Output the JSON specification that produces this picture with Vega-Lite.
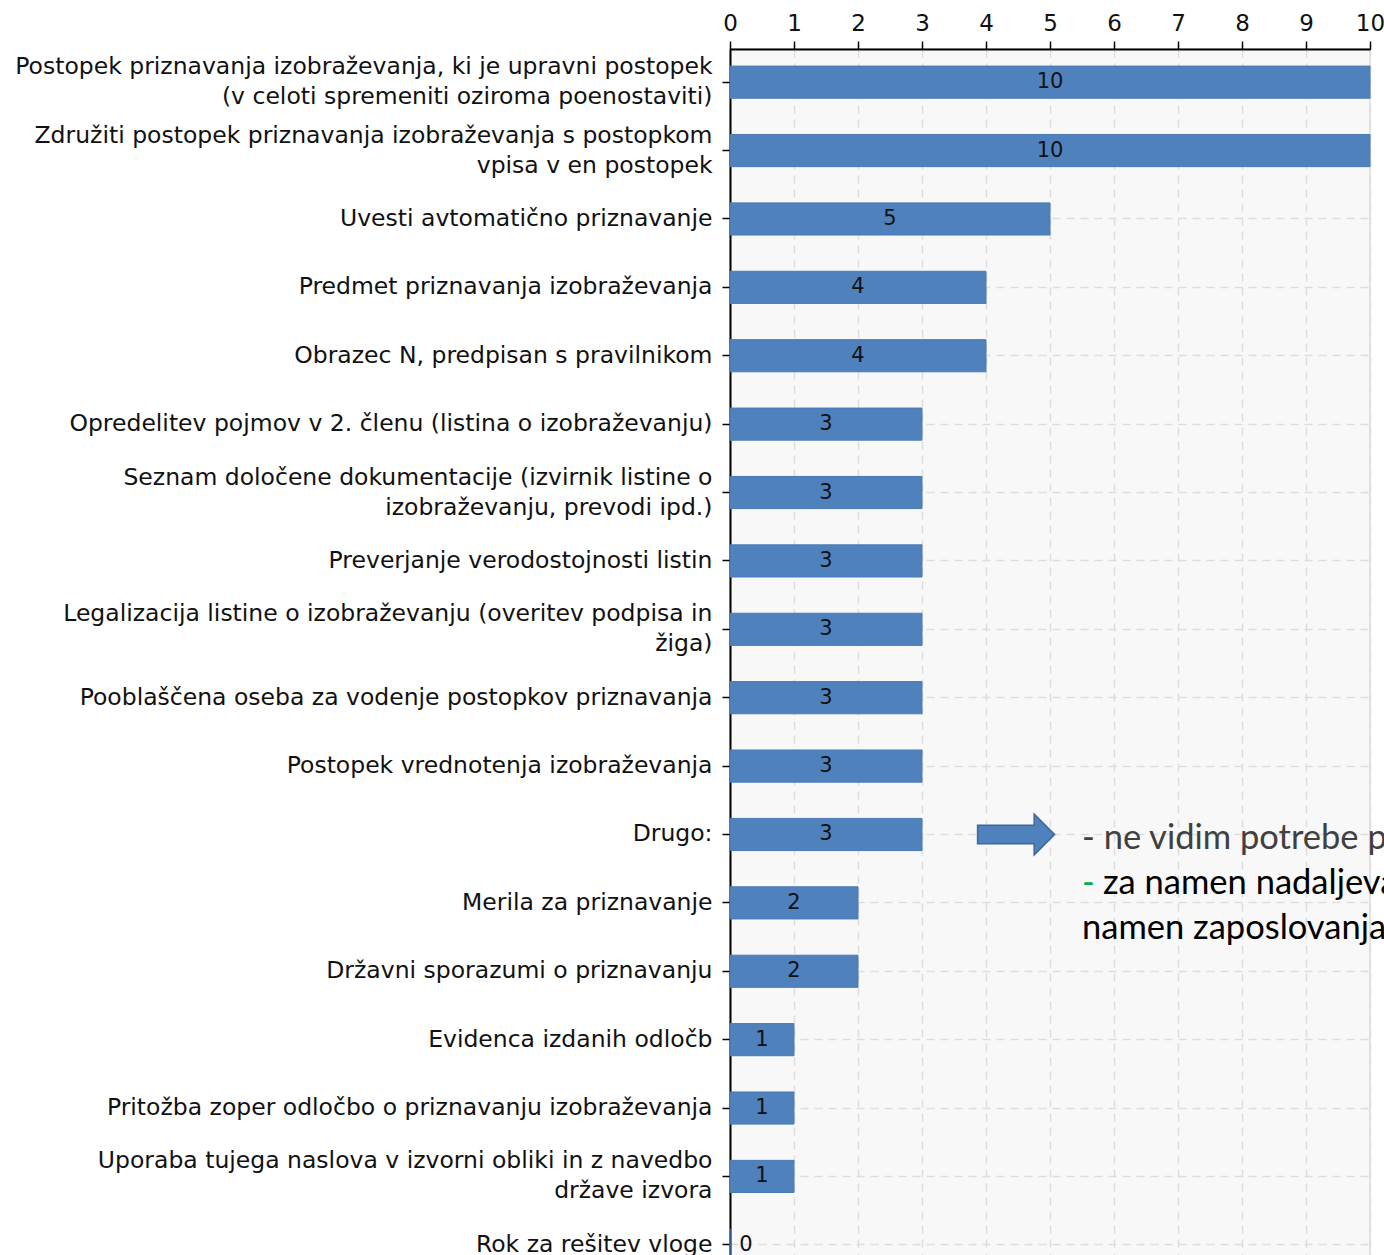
{
  "$schema": "https://vega.github.io/schema/vega-lite/v6.json",
  "autosize": "none",
  "padding": {"left": 730, "top": 49, "right": 14, "bottom": 0},
  "width": 640,
  "height": 1229,
  "background": "white",
  "config": {
    "view": {"fill": "#f8f8f8", "stroke": "#d9d9d9", "strokeWidth": 1.5},
    "font": "DejaVu Sans"
  },
  "layer": [
    {
      "data": {
        "values": [
          {"label": "Postopek priznavanja izobraževanja, ki je upravni postopek|(v celoti spremeniti oziroma poenostaviti)", "value": 10},
          {"label": "Združiti postopek priznavanja izobraževanja s postopkom|vpisa v en postopek", "value": 10},
          {"label": "Uvesti avtomatično priznavanje", "value": 5},
          {"label": "Predmet priznavanja izobraževanja", "value": 4},
          {"label": "Obrazec N, predpisan s pravilnikom", "value": 4},
          {"label": "Opredelitev pojmov v 2. členu (listina o izobraževanju)", "value": 3},
          {"label": "Seznam določene dokumentacije (izvirnik listine o|izobraževanju, prevodi ipd.)", "value": 3},
          {"label": "Preverjanje verodostojnosti listin", "value": 3},
          {"label": "Legalizacija listine o izobraževanju (overitev podpisa in|žiga)", "value": 3},
          {"label": "Pooblaščena oseba za vodenje postopkov priznavanja", "value": 3},
          {"label": "Postopek vrednotenja izobraževanja", "value": 3},
          {"label": "Drugo:", "value": 3},
          {"label": "Merila za priznavanje", "value": 2},
          {"label": "Državni sporazumi o priznavanju", "value": 2},
          {"label": "Evidenca izdanih odločb", "value": 1},
          {"label": "Pritožba zoper odločbo o priznavanju izobraževanja", "value": 1},
          {"label": "Uporaba tujega naslova v izvorni obliki in z navedbo|države izvora", "value": 1},
          {"label": "Rok za rešitev vloge", "value": 0}
        ]
      },
      "transform": [
        {"calculate": "datum.value == 0 ? 0.25 : datum.value / 2", "as": "labelPos"}
      ],
      "layer": [
        {
          "mark": {"type": "bar", "color": "#4f81bd", "stroke": "#4a7ab5", "strokeWidth": 1},
          "encoding": {
            "y": {
              "field": "label", "type": "nominal", "sort": null,
              "scale": {"paddingInner": 0.53, "paddingOuter": 0.25},
              "axis": {
                "title": null, "orient": "left",
                "labelExpr": "split(datum.label, '|')",
                "labelFont": "DejaVu Sans", "labelFontSize": 23.5, "labelColor": "#111111",
                "labelLineHeight": 30, "labelLimit": 0, "labelPadding": 10,
                "labelOffset": {"condition": {"test": "indexof(datum.value, '|') >= 0", "value": -15}, "value": 0},
                "tickSize": 8, "tickColor": "#000000", "tickWidth": 1.5,
                "domainColor": "#000000", "domainWidth": 2,
                "grid": true, "gridColor": "#dddddd", "gridDash": [8, 6], "gridWidth": 1.5
              }
            },
            "x": {
              "field": "value", "type": "quantitative",
              "scale": {"domain": [0, 10], "nice": false},
              "axis": {
                "title": null, "orient": "top", "values": [0,1,2,3,4,5,6,7,8,9,10], "format": "d",
                "labelFont": "DejaVu Sans", "labelFontSize": 23, "labelColor": "#111111",
                "labelPadding": 6, "labelFlush": false, "labelOverlap": false,
                "tickSize": 8, "tickColor": "#000000", "tickWidth": 1.5,
                "domainColor": "#000000", "domainWidth": 2,
                "grid": true, "gridColor": "#dddddd", "gridDash": [8, 6], "gridWidth": 1.5
              }
            }
          }
        },
        {
          "mark": {"type": "text", "font": "DejaVu Sans", "fontSize": 21, "color": "#111111", "baseline": "middle", "align": "center"},
          "encoding": {
            "y": {"field": "label", "type": "nominal", "sort": null},
            "x": {"field": "labelPos", "type": "quantitative"},
            "text": {"field": "value", "type": "quantitative"}
          }
        }
      ]
    },
    {
      "data": {"values": [{"note": "arrow"}]},
      "mark": {
        "type": "point", "filled": true, "opacity": 1,
        "shape": "M-1,-0.24 L0.47,-0.24 L0.47,-0.53 L1,0 L0.47,0.53 L0.47,0.24 L-1,0.24 Z",
        "size": 5929, "color": "#4f81bd", "stroke": "#3b679c", "strokeWidth": 1.5
      },
      "encoding": {
        "x": {"datum": 4.47, "type": "quantitative"},
        "y": {"datum": "Drugo:", "type": "nominal"}
      }
    },
    {
      "data": {"values": [{"note": "- ne vidim potrebe po spremembah"}]},
      "mark": {"type": "text", "font": "Lato", "fontSize": 34.5, "color": "#404040", "align": "left", "baseline": "middle", "dy": 5},
      "encoding": {
        "x": {"datum": 5.5, "type": "quantitative"},
        "y": {"datum": "Drugo:", "type": "nominal"},
        "text": {"field": "note"}
      }
    },
    {
      "data": {"values": [{"note": "za namen nadaljevanja izobraževanja in"}]},
      "mark": {"type": "text", "font": "Lato", "fontSize": 34.5, "color": "#000000", "align": "left", "baseline": "middle", "dy": 50, "dx": 21},
      "encoding": {
        "x": {"datum": 5.5, "type": "quantitative"},
        "y": {"datum": "Drugo:", "type": "nominal"},
        "text": {"field": "note"}
      }
    },
    {
      "data": {"values": [{"note": "-"}]},
      "mark": {"type": "text", "font": "Lato", "fontSize": 34.5, "color": "#00b050", "align": "left", "baseline": "middle", "dy": 50},
      "encoding": {
        "x": {"datum": 5.5, "type": "quantitative"},
        "y": {"datum": "Drugo:", "type": "nominal"},
        "text": {"field": "note"}
      }
    },
    {
      "data": {"values": [{"note": "namen zaposlovanja"}]},
      "mark": {"type": "text", "font": "Lato", "fontSize": 34.5, "color": "#000000", "align": "left", "baseline": "middle", "dy": 95},
      "encoding": {
        "x": {"datum": 5.5, "type": "quantitative"},
        "y": {"datum": "Drugo:", "type": "nominal"},
        "text": {"field": "note"}
      }
    }
  ]
}
